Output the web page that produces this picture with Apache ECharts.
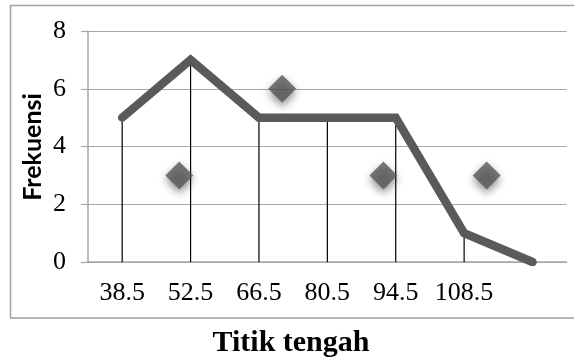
<!DOCTYPE html>
<html>
<head>
<meta charset="utf-8">
<script src="https://cdn.jsdelivr.net/npm/echarts@6/dist/echarts.min.js"></script>
<style>
  html, body { margin: 0; padding: 0; background: #fff; }
  #chart { width: 574px; height: 363px; }
</style>
</head>
<body>
<div id="chart"></div>
<script>
// Midpoints (category axis) and frequency polygon values
const midpoints = ['38.5', '52.5', '66.5', '80.5', '94.5', '108.5', ''];
const frequencies = [5, 7, 5, 5, 5, 1, 0];

// Diamond markers: position along the category span (0..7) and value
const markerPos = [1.335, 2.84, 4.32, 5.83, 7.33];
const markerValues = [3, 6, 3, 3, 3];

// Y axis scale
const yMin = 0, yMax = 8, yStep = 2;

const gray = '#a6a6a6';
const serif = '"Liberation Serif", "Times New Roman", serif';

const chart = echarts.init(document.getElementById('chart'));

chart.setOption({
  animation: false,
  grid: { left: 88, right: 7.3, top: 31, bottom: 101, containLabel: false },
  xAxis: [
    {
      type: 'category',
      data: midpoints,
      boundaryGap: true,
      axisLine: { lineStyle: { color: gray, width: 1.5 } },
      axisTick: { show: false },
      axisLabel: { interval: 0, color: '#000', fontFamily: serif, fontSize: 26, margin: 18 },
      splitLine: { show: false }
    },
    {
      type: 'value',
      min: 0,
      max: midpoints.length,
      show: false
    }
  ],
  yAxis: {
    type: 'value',
    min: yMin,
    max: yMax,
    interval: yStep,
    axisLine: { show: true, lineStyle: { color: gray, width: 1.5 } },
    axisTick: { show: true, inside: false, length: 7, lineStyle: { color: gray, width: 1.2 } },
    axisLabel: { color: '#000', fontFamily: serif, fontSize: 26, margin: 22 },
    splitLine: { show: true, lineStyle: { color: gray, width: 1.2 } }
  },
  graphic: [
    {
      type: 'rect',
      shape: { x: 10.5, y: 5.5, width: 620, height: 312.5 },
      style: { fill: 'none', stroke: '#a0a0a0', lineWidth: 1.5 },
      silent: true
    },
    {
      type: 'text',
      x: 33, y: 147,
      rotation: Math.PI / 2,
      style: {
        text: 'Frekuensi',
        font: 'bold 25px Lato, "Open Sans", sans-serif',
        fill: '#000',
        align: 'center',
        verticalAlign: 'middle'
      }
    },
    {
      type: 'text',
      x: 291, y: 343,
      style: {
        text: 'Titik tengah',
        font: 'bold 30px ' + serif,
        fill: '#000',
        align: 'center',
        verticalAlign: 'middle'
      }
    }
  ],
  series: [
    {
      // drop lines from each point to the axis
      type: 'bar',
      data: frequencies,
      barWidth: 1.2,
      itemStyle: { color: '#000' },
      z: 1,
      silent: true
    },
    {
      type: 'line',
      data: frequencies,
      symbol: 'none',
      lineStyle: { color: '#5a5a5a', width: 8.5, cap: 'round', join: 'miter' },
      z: 3
    },
    {
      type: 'scatter',
      xAxisIndex: 1,
      data: markerPos.map((p, i) => [p, markerValues[i]]),
      symbol: 'diamond',
      symbolSize: [28, 28],
      clip: false,
      itemStyle: {
        color: '#585858',
        shadowBlur: 9,
        shadowColor: 'rgba(0,0,0,0.55)',
        shadowOffsetY: 4
      },
      z: 4
    }
  ]
});
</script>
</body>
</html>
